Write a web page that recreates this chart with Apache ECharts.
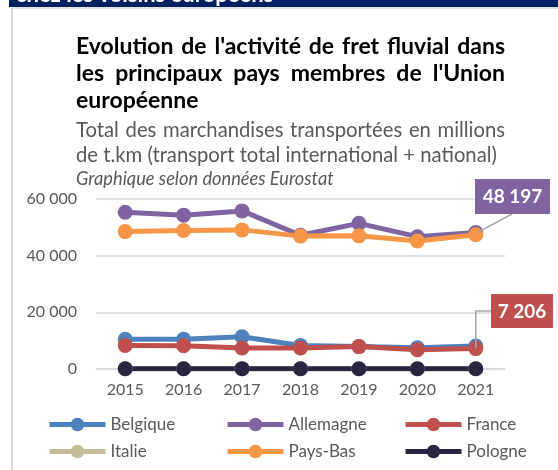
<!DOCTYPE html>
<html><head><meta charset="utf-8">
<script src="https://cdn.jsdelivr.net/npm/echarts@6/dist/echarts.min.js"></script>
<style>html,body{margin:0;padding:0;background:#fff;}#c{width:558px;height:470px;}</style>
</head><body><div id="c"></div>
<script>
const years = ['2015','2016','2017','2018','2019','2020','2021'];
const yTicks = [0, 20000, 40000, 60000];
const belgique  = [10500, 10500, 11400, 8300, 7900, 7500, 8100];
const allemagne = [55300, 54300, 55800, 47200, 51400, 46700, 48197];
const france    = [8300, 8200, 7400, 7400, 7900, 6800, 7206];
const italie    = [70, 80, 70, 60, 60, 60, 70];
const paysBas   = [48500, 48900, 49100, 46900, 47000, 45200, 47400];
const pologne   = [100, 100, 120, 90, 80, 70, 90];
const seriesNames = ['Belgique','Allemagne','France','Italie','Pays-Bas','Pologne'];
const seriesData = [belgique, allemagne, france, italie, paysBas, pologne];
const colors = ['#4F81BD','#8064A2','#C0504D','#C4BD97','#F79646','#2C2541'];

const titleLines = ["Evolution de l'activité de fret fluvial dans", "les principaux pays membres de l'Union", "européenne"];
const subLines = ["Total des marchandises transportées en millions", "de t.km (transport total international + national)"];
const sourceText = "Graphique selon données Eurostat";
const bannerText = "chez les voisins européens";

const FF = 'Lato';
function fmt(v){ return String(v).replace(/\B(?=(\d{3})+(?!\d))/g, ' '); }

const cv = document.createElement('canvas').getContext('2d');
function measure(t, font){ cv.font = font; return cv.measureText(t).width; }
function fitSize(t, weight, style, target){
  let s = 10;
  for (let k = 10; k <= 30; k += 0.25){ if (measure(t, style+' '+weight+' '+k+'px '+FF) <= target) s = k; }
  return s;
}
function textEl(t, x, y, size, weight, style, fill){
  return {type:'text', x:x, y:y, silent:true, style:{text:t, fill:fill, fontSize:size, fontWeight:weight, fontStyle:style, fontFamily:FF, align:'left', verticalAlign:'middle'}};
}
function justify(t, x0, x1, y, size, weight, style, fill){
  const words = t.split(' ');
  const font = style+' '+weight+' '+size+'px '+FF;
  const ws = words.map(w => measure(w, font));
  const total = ws.reduce((a,b)=>a+b,0);
  const gap = (x1 - x0 - total)/(words.length-1);
  let x = x0; const out = [];
  words.forEach((w,i)=>{ out.push(textEl(w, x, y, size, weight, style, fill)); x += ws[i] + gap; });
  return out;
}

const X0 = 76, X1 = 505;
const titleSize = fitSize(titleLines[2], 'bold', 'normal', 123);
const subSize = fitSize(subLines[1], 'normal', 'normal', 421);
const srcSize = fitSize(sourceText, 'normal', 'italic', 259);

let graphics = [
  {type:'rect', silent:true, shape:{x:9, y:0, width:549, height:7}, style:{fill:'#002060'}},
  {type:'text', silent:true, x:16, y:6, style:{text:bannerText, fill:'#ffffff', fontSize:22, fontWeight:'bold', fontFamily:FF, align:'left', verticalAlign:'bottom'}},
  {type:'line', silent:true, shape:{x1:12, y1:8, x2:558, y2:8}, style:{stroke:'#d9d9d9', lineWidth:1.5}},
  {type:'line', silent:true, shape:{x1:12, y1:8, x2:12, y2:470}, style:{stroke:'#d9d9d9', lineWidth:2}}
];
graphics = graphics.concat(justify(titleLines[0], X0, X1, 47, titleSize, 'bold', 'normal', '#000000'));
graphics = graphics.concat(justify(titleLines[1], X0, X1, 74, titleSize, 'bold', 'normal', '#000000'));
graphics.push(textEl(titleLines[2], X0, 101, titleSize, 'bold', 'normal', '#000000'));
graphics = graphics.concat(justify(subLines[0], X0, X1, 130, subSize, 'normal', 'normal', '#595959'));
graphics.push(textEl(subLines[1], X0, 155, subSize, 'normal', 'normal', '#595959'));
graphics.push(textEl(sourceText, X0, 179, srcSize, 'normal', 'italic', '#595959'));

const legendPos = [[47,416],[225,416],[403,416],[47,443],[225,443],[403,443]];
const legends = seriesNames.map((n,i)=>({
  data:[n], left:legendPos[i][0], top:legendPos[i][1], padding:0,
  itemWidth:56, itemHeight:17, itemGap:4, selectedMode:false,
  lineStyle:{width:5},
  textStyle:{color:'#595959', fontSize:17, fontFamily:FF}
}));

const chart = echarts.init(document.getElementById('c'), null, {renderer:'canvas'});
chart.setOption({
  animation:false,
  textStyle:{fontFamily:FF},
  grid:{left:96, right:53, top:199, bottom:101},
  legend: legends,
  xAxis:{type:'category', data:years, boundaryGap:true,
    axisLine:{show:true, lineStyle:{color:'#d9d9d9', width:1.5}}, axisTick:{show:false},
    axisLabel:{color:'#595959', fontSize:16, fontFamily:FF, margin:13}},
  yAxis:{type:'value', min:yTicks[0], max:yTicks[yTicks.length-1], interval:yTicks[1]-yTicks[0],
    axisLine:{show:false}, axisTick:{show:false},
    splitLine:{lineStyle:{color:'#d9d9d9', width:1.5}},
    axisLabel:{color:'#595959', fontSize:16, fontFamily:FF, margin:19, formatter:v=>fmt(v)}},
  series: seriesNames.map((n,i)=>({
    name:n, type:'line', data:seriesData[i], color:colors[i],
    symbol:'circle', symbolSize:15, showAllSymbol:true,
    lineStyle:{width:5, color:colors[i]}, itemStyle:{color:colors[i]}
  })),
  graphic: graphics
});

const last = years.length - 1;
const pA = chart.convertToPixel({seriesIndex:1}, [last, allemagne[last]]);
const pF = chart.convertToPixel({seriesIndex:2}, [last, france[last]]);
const ann = [
  {type:'polyline', silent:true, z:100, shape:{points:[[pA[0]+2,pA[1]],[512,214]]}, style:{stroke:'#a6a6a6', lineWidth:1.5, fill:null}},
  {type:'rect', silent:true, z:100, shape:{x:475, y:179, width:75, height:35}, style:{fill:'#8064A2'}},
  {type:'text', silent:true, z:101, x:512.5, y:197, style:{text:fmt(allemagne[last]), fill:'#ffffff', fontSize:19, fontWeight:'bold', fontFamily:FF, align:'center', verticalAlign:'middle'}},
  {type:'polyline', silent:true, z:100, shape:{points:[[pF[0],pF[1]],[pF[0],311],[491,311]]}, style:{stroke:'#a6a6a6', lineWidth:1.5, fill:null}},
  {type:'rect', silent:true, z:100, shape:{x:491, y:294, width:62, height:34}, style:{fill:'#C0504D'}},
  {type:'text', silent:true, z:101, x:522, y:311.5, style:{text:fmt(france[last]), fill:'#ffffff', fontSize:19, fontWeight:'bold', fontFamily:FF, align:'center', verticalAlign:'middle'}}
];
chart.setOption({graphic: graphics.concat(ann)});
</script></body></html>
